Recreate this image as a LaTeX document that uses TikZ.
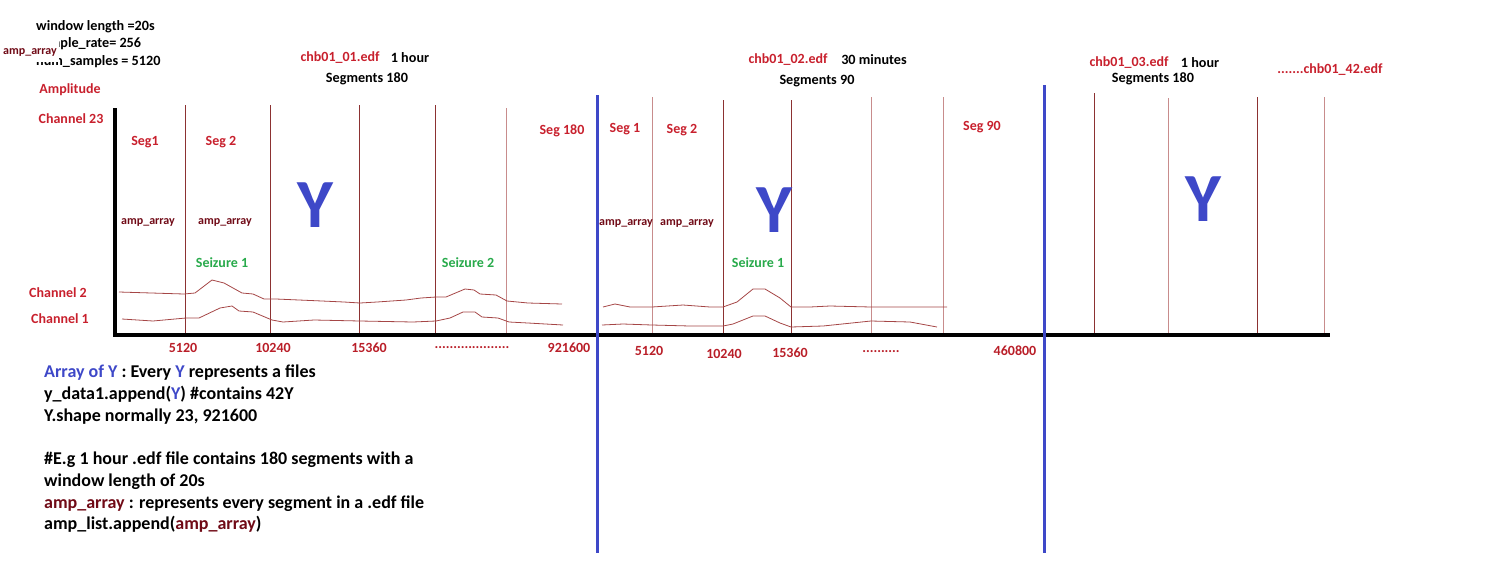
\documentclass[tikz,border=0pt]{standalone}
\usepackage{fontspec}
\setmainfont{Carlito}
\usepackage{tikz}
\usetikzlibrary{positioning}
\definecolor{segred}{RGB}{200,32,45}
\definecolor{tickred}{RGB}{185,30,40}
\definecolor{amprd}{RGB}{112,10,22}
\definecolor{szgreen}{RGB}{40,170,75}
\definecolor{yblue}{RGB}{62,72,200}
\definecolor{lined}{RGB}{140,50,50}
\definecolor{linel}{RGB}{200,140,140}
\definecolor{waver}{RGB}{165,70,70}

\begin{document}
\begin{tikzpicture}[x=1pt, y=-1pt,
  lbl/.style={font=\bfseries\fontsize{14}{16}\selectfont, text=segred, inner sep=0pt},
  tick/.style={font=\bfseries\fontsize{14}{16}\selectfont, text=tickred, inner sep=0pt},
  info/.style={font=\bfseries\fontsize{14.2}{16}\selectfont, text=black, inner sep=0pt},
  amp/.style={font=\bfseries\fontsize{12}{13}\selectfont, text=amprd, inner sep=0pt},
  seiz/.style={font=\bfseries\fontsize{14}{16}\selectfont, text=szgreen, inner sep=0pt},
  bigY/.style={font=\bfseries\fontsize{69}{69}\selectfont, text=yblue, inner sep=0pt},
  gridd/.style={draw=lined, line width=0.7pt},
  gridl/.style={draw=linel, line width=0.8pt},
  wave/.style={draw=waver, line width=0.8pt, line join=round},
  sep/.style={draw=yblue, line width=3pt},
  axisline/.style={draw=black, line width=3.5pt}
]
\useasboundingbox (0,0) rectangle (1500,574);

% segment borders
\draw[gridd] (185,105) -- (185,335);
\draw[gridd] (270,105) -- (270,335);
\draw[gridd] (359,105) -- (359,335);
\draw[gridd] (435,105) -- (435,335);
\draw[gridl] (506,108) -- (506,335);

\draw[gridl] (652,97) -- (652,335);
\draw[gridd] (723,100) -- (723,335);
\draw[gridd] (791,100) -- (791,335);
\draw[gridl] (871,97) -- (871,335);
\draw[gridl] (943,97) -- (943,335);

\draw[gridd] (1094,93) -- (1094,335);
\draw[gridl] (1168,98) -- (1168,335);
\draw[gridd] (1257,97) -- (1257,335);
\draw[gridl] (1324,97) -- (1324,335);

% channel signals
\draw[wave] plot coordinates {(119,292) (184,294) (195,293) (212,280) (224,283) (242,293) (253,294) (264,299) (276,299) (299,300) (322,301) (344,302) (360,303) (377,302) (406,300) (421,298) (436,297) (446,297) (465,289) (474,290) (480,294) (496,295) (507,301) (528,303) (562,304)};
\draw[wave] plot coordinates {(122,319) (153,321) (186,318) (199,318) (220,308) (232,306) (239,311) (253,312) (272,320) (283,322) (314,320) (360,321) (413,322) (436,321) (450,318) (463,312) (475,312) (482,317) (498,318) (509,322) (528,323) (563,325)};
\draw[wave] plot coordinates {(603,307) (615,304) (630,307) (652,307) (683,305) (710,307) (723,307) (737,302) (753,289) (765,289) (780,298) (791,307) (810,307) (830,306) (871,307) (947,307)};
\draw[wave] plot coordinates {(602,325) (623,324) (652,325) (690,326) (723,326) (733,324) (753,316) (765,316) (780,323) (791,327) (823,326) (871,321) (910,322) (937,327)};

% settings
\node[info, anchor=west] (winlen) at (36,27) {window length =20s};
\node[info, anchor=west] (srate) at (36,44) {sample\_rate= 256};
\node[info, anchor=west] (nsamp) at (36,62) {num\_samples = 5120};
\node[amp, fill=white, anchor=base, inner xsep=2pt, inner ysep=4pt,
  text height=10.5pt, text depth=3pt] (ampTop) at (30,54.5) {amp\_array};

\node[lbl] (ampl) at (70,90) {Amplitude};
\node[lbl] (ch23) at (71,119) {Channel 23};
\node[lbl] (ch2) at (58,293) {Channel 2};
\node[lbl] (ch1) at (60,319) {Channel 1};

% file headers
\node[lbl] (f1name) at (340,58) {chb01\_01.edf};
\node[info] (f1dur) at (410,58) {1 hour};
\node[info] (f1seg) at (367,79) {Segments 180};
\node[lbl] (f2name) at (788,60) {chb01\_02.edf};
\node[info] (f2dur) at (874,60) {30 minutes};
\node[info] (f2seg) at (817,81) {Segments 90};
\node[lbl] (f3name) at (1129,63) {chb01\_03.edf};
\node[info] (f3dur) at (1200,63) {1 hour};
\node[info] (f3seg) at (1153,79) {Segments 180};
\node[lbl] (flast) at (1330,70) {.......chb01\_42.edf};

% segment labels
\node[lbl] (f1s1) at (145,142) {Seg1};
\node[lbl] (f1s2) at (221,142) {Seg 2};
\node[lbl] (f1s180) at (562,131) {Seg 180};
\node[lbl] (f2s1) at (625,129) {Seg 1};
\node[lbl] (f2s2) at (682,130) {Seg 2};
\node[lbl] (f2s90) at (982,127) {Seg 90};

\node[amp] (f1a1) at (148,222) {amp\_array};
\node[amp] (f1a2) at (225,222) {amp\_array};
\node[amp] (f2a1) at (626,223) {amp\_array};
\node[amp] (f2a2) at (687,223) {amp\_array};

\node[seiz] (f1z1) at (222,263) {Seizure 1};
\node[seiz] (f1z2) at (468,263) {Seizure 2};
\node[seiz] (f2z1) at (758,263) {Seizure 1};

\node[bigY] (Y1) at (315,205) {Y};
\node[bigY] (Y2) at (774,210) {Y};
\node[bigY] (Y3) at (1203,199) {Y};

% sample index labels
\node[tick] (t1a) at (183,348) {5120};
\node[tick] (t1b) at (273,348) {10240};
\node[tick] (t1c) at (369,348) {15360};
\node[tick] (t1d) at (472,348) {....................};
\node[tick] (t1e) at (569,348) {921600};
\node[tick] (t2a) at (649,351) {5120};
\node[tick] (t2b) at (724,354) {10240};
\node[tick] (t2c) at (790,353) {15360};
\node[tick] (t2d) at (881,352) {..........};
\node[tick] (t2e) at (1015,351) {460800};

% axes and file borders
\draw[axisline] (115,108) -- (115,336);
\draw[axisline] (113,335) -- (1330,335);
\draw[sep] (597,95) -- (597,553);
\draw[sep] (1044,85) -- (1044,553);

% notes
\node[font=\bfseries\fontsize{18}{21.7}\selectfont, anchor=north west, align=left, inner sep=0pt] (notes) at (44,365) {%
  {\color{yblue}Array of Y} : Every {\color{yblue}Y} represents a files\\
  y\_data1.append({\color{yblue}Y}) \#contains 42Y\\
  Y.shape normally 23, 921600\\[21.7pt]
  \#E.g 1 hour .edf file contains 180 segments with a\\
  window length of 20s\\
  {\color{amprd}amp\_array} : represents every segment in a .edf file\\
  amp\_list.append({\color{amprd}amp\_array})};
\end{tikzpicture}
\end{document}
